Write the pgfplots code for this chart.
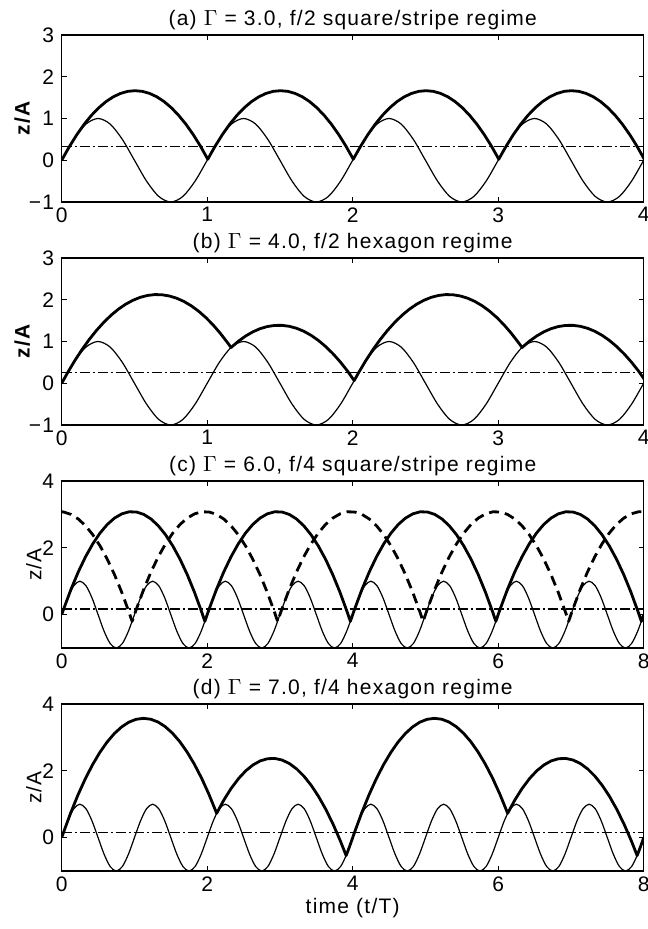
\documentclass[border=0pt,11pt]{standalone}
\usepackage{fontspec}
\setmainfont{Liberation Sans}[LetterSpace=6]
\usepackage{pgfplots}
\pgfplotsset{compat=1.18}
\usepackage{pgfplotstable}

% plate position z/A = sin(2 pi t)
\pgfplotstableread[row sep=\\]{
t z\\
0 0\\ 0.0833 0.5\\ 0.1667 0.866\\ 0.25 1\\ 0.3333 0.866\\ 0.4167 0.5\\ 0.5 0\\ 0.5833 -0.5\\ 0.6667 -0.866\\ 0.75 -1\\ 0.8333 -0.866\\ 0.9167 -0.5\\
1 0\\ 1.0833 0.5\\ 1.1667 0.866\\ 1.25 1\\ 1.3333 0.866\\ 1.4167 0.5\\ 1.5 0\\ 1.5833 -0.5\\ 1.6667 -0.866\\ 1.75 -1\\ 1.8333 -0.866\\ 1.9167 -0.5\\
2 0\\ 2.0833 0.5\\ 2.1667 0.866\\ 2.25 1\\ 2.3333 0.866\\ 2.4167 0.5\\ 2.5 0\\ 2.5833 -0.5\\ 2.6667 -0.866\\ 2.75 -1\\ 2.8333 -0.866\\ 2.9167 -0.5\\
3 0\\ 3.0833 0.5\\ 3.1667 0.866\\ 3.25 1\\ 3.3333 0.866\\ 3.4167 0.5\\ 3.5 0\\ 3.5833 -0.5\\ 3.6667 -0.866\\ 3.75 -1\\ 3.8333 -0.866\\ 3.9167 -0.5\\
4 0\\ 4.0833 0.5\\ 4.1667 0.866\\ 4.25 1\\ 4.3333 0.866\\ 4.4167 0.5\\ 4.5 0\\ 4.5833 -0.5\\ 4.6667 -0.866\\ 4.75 -1\\ 4.8333 -0.866\\ 4.9167 -0.5\\
5 0\\ 5.0833 0.5\\ 5.1667 0.866\\ 5.25 1\\ 5.3333 0.866\\ 5.4167 0.5\\ 5.5 0\\ 5.5833 -0.5\\ 5.6667 -0.866\\ 5.75 -1\\ 5.8333 -0.866\\ 5.9167 -0.5\\
6 0\\ 6.0833 0.5\\ 6.1667 0.866\\ 6.25 1\\ 6.3333 0.866\\ 6.4167 0.5\\ 6.5 0\\ 6.5833 -0.5\\ 6.6667 -0.866\\ 6.75 -1\\ 6.8333 -0.866\\ 6.9167 -0.5\\
7 0\\ 7.0833 0.5\\ 7.1667 0.866\\ 7.25 1\\ 7.3333 0.866\\ 7.4167 0.5\\ 7.5 0\\ 7.5833 -0.5\\ 7.6667 -0.866\\ 7.75 -1\\ 7.8333 -0.866\\ 7.9167 -0.5\\
8 0\\
}\sinetab

% (a) Gamma = 3
\pgfplotstableread[row sep=\\]{
t z\\
0 0\\ 0.028 0.175\\ 0.054 0.333\\ 0.104 0.613\\ 0.154 0.860\\ 0.204 1.074\\ 0.254 1.255\\ 0.304 1.403\\ 0.354 1.518\\ 0.404 1.600\\ 0.454 1.650\\ 0.504 1.666\\ 0.554 1.650\\ 0.604 1.601\\ 0.654 1.519\\ 0.704 1.404\\ 0.754 1.256\\ 0.804 1.075\\ 0.854 0.861\\ 0.904 0.614\\ 0.954 0.335\\ 1.004 0.024\\
1.028 0.175\\ 1.054 0.333\\ 1.104 0.613\\ 1.154 0.860\\ 1.204 1.074\\ 1.254 1.255\\ 1.304 1.403\\ 1.354 1.518\\ 1.404 1.600\\ 1.454 1.650\\ 1.504 1.666\\ 1.554 1.650\\ 1.604 1.601\\ 1.654 1.519\\ 1.704 1.404\\ 1.754 1.256\\ 1.804 1.075\\ 1.854 0.861\\ 1.904 0.614\\ 1.954 0.335\\ 2.004 0.024\\
2.028 0.175\\ 2.054 0.333\\ 2.104 0.613\\ 2.154 0.860\\ 2.204 1.074\\ 2.254 1.255\\ 2.304 1.403\\ 2.354 1.518\\ 2.404 1.600\\ 2.454 1.650\\ 2.504 1.666\\ 2.554 1.650\\ 2.604 1.601\\ 2.654 1.519\\ 2.704 1.404\\ 2.754 1.256\\ 2.804 1.075\\ 2.854 0.861\\ 2.904 0.614\\ 2.954 0.335\\ 3.004 0.024\\
3.028 0.175\\ 3.054 0.333\\ 3.104 0.613\\ 3.154 0.860\\ 3.204 1.074\\ 3.254 1.255\\ 3.304 1.403\\ 3.354 1.518\\ 3.404 1.600\\ 3.454 1.650\\ 3.504 1.666\\ 3.554 1.650\\ 3.604 1.601\\ 3.654 1.519\\ 3.704 1.404\\ 3.754 1.256\\ 3.804 1.075\\ 3.854 0.861\\ 3.904 0.614\\ 3.954 0.335\\ 4.004 0.024\\
}\balla

% (b) Gamma = 4
\pgfplotstableread[row sep=\\]{
t z\\
0 0\\ 0.020 0.125\\ 0.040 0.250\\ 0.090 0.542\\ 0.140 0.809\\ 0.190 1.052\\ 0.240 1.269\\ 0.290 1.462\\ 0.340 1.631\\ 0.390 1.775\\ 0.440 1.894\\ 0.490 1.988\\ 0.540 2.058\\ 0.590 2.103\\ 0.640 2.124\\ 0.690 2.119\\ 0.740 2.090\\ 0.790 2.037\\ 0.840 1.959\\ 0.890 1.856\\ 0.940 1.728\\ 0.990 1.576\\ 1.040 1.399\\ 1.090 1.197\\ 1.140 0.971\\ 1.164 0.856\\
1.214 1.006\\ 1.264 1.131\\ 1.314 1.232\\ 1.364 1.308\\ 1.414 1.359\\ 1.464 1.385\\ 1.514 1.387\\ 1.564 1.364\\ 1.614 1.317\\ 1.664 1.245\\ 1.714 1.148\\ 1.764 1.026\\ 1.814 0.880\\ 1.864 0.709\\ 1.914 0.514\\ 1.964 0.294\\ 2.010 0.065\\ 2.025 0.156\\
2.040 0.250\\ 2.090 0.542\\ 2.140 0.809\\ 2.190 1.052\\ 2.240 1.269\\ 2.290 1.462\\ 2.340 1.631\\ 2.390 1.775\\ 2.440 1.894\\ 2.490 1.988\\ 2.540 2.058\\ 2.590 2.103\\ 2.640 2.124\\ 2.690 2.119\\ 2.740 2.090\\ 2.790 2.037\\ 2.840 1.959\\ 2.890 1.856\\ 2.940 1.728\\ 2.990 1.576\\ 3.040 1.399\\ 3.090 1.197\\ 3.140 0.971\\ 3.164 0.856\\
3.214 1.006\\ 3.264 1.131\\ 3.314 1.232\\ 3.364 1.308\\ 3.414 1.359\\ 3.464 1.385\\ 3.514 1.387\\ 3.564 1.364\\ 3.614 1.317\\ 3.664 1.245\\ 3.714 1.148\\ 3.764 1.026\\ 3.814 0.880\\ 3.864 0.709\\ 3.914 0.514\\ 3.964 0.294\\ 4.010 0.065\\
}\ballb

% (c) Gamma = 6, solid
\pgfplotstableread[row sep=\\]{
t z\\
0 0\\ 0.027 0.167\\ 0.127 0.753\\ 0.227 1.274\\ 0.327 1.729\\ 0.427 2.118\\ 0.527 2.442\\ 0.627 2.700\\ 0.727 2.891\\ 0.827 3.017\\ 0.927 3.078\\ 1.027 3.072\\ 1.127 3.001\\ 1.227 2.864\\ 1.327 2.661\\ 1.427 2.392\\ 1.527 2.057\\ 1.627 1.657\\ 1.727 1.191\\ 1.827 0.659\\ 1.927 0.061\\ 1.968 -0.203\\ 2.000 0\\
2.027 0.167\\ 2.127 0.753\\ 2.227 1.274\\ 2.327 1.729\\ 2.427 2.118\\ 2.527 2.442\\ 2.627 2.700\\ 2.727 2.891\\ 2.827 3.017\\ 2.927 3.078\\ 3.027 3.072\\ 3.127 3.001\\ 3.227 2.864\\ 3.327 2.661\\ 3.427 2.392\\ 3.527 2.057\\ 3.627 1.657\\ 3.727 1.191\\ 3.827 0.659\\ 3.927 0.061\\ 3.968 -0.203\\ 4.000 0\\
4.027 0.167\\ 4.127 0.753\\ 4.227 1.274\\ 4.327 1.729\\ 4.427 2.118\\ 4.527 2.442\\ 4.627 2.700\\ 4.727 2.891\\ 4.827 3.017\\ 4.927 3.078\\ 5.027 3.072\\ 5.127 3.001\\ 5.227 2.864\\ 5.327 2.661\\ 5.427 2.392\\ 5.527 2.057\\ 5.627 1.657\\ 5.727 1.191\\ 5.827 0.659\\ 5.927 0.061\\ 5.968 -0.203\\ 6.000 0\\
6.027 0.167\\ 6.127 0.753\\ 6.227 1.274\\ 6.327 1.729\\ 6.427 2.118\\ 6.527 2.442\\ 6.627 2.700\\ 6.727 2.891\\ 6.827 3.017\\ 6.927 3.078\\ 7.027 3.072\\ 7.127 3.001\\ 7.227 2.864\\ 7.327 2.661\\ 7.427 2.392\\ 7.527 2.057\\ 7.627 1.657\\ 7.727 1.191\\ 7.827 0.659\\ 7.927 0.061\\ 7.968 -0.203\\ 8.000 0\\
}\ballc

% (c) Gamma = 6, dashed (other phase)
\pgfplotstableread[row sep=\\]{
t z\\
0 3.080\\ 0.027 3.072\\ 0.127 3.001\\ 0.227 2.864\\ 0.327 2.661\\ 0.427 2.392\\ 0.527 2.057\\ 0.627 1.657\\ 0.727 1.191\\ 0.827 0.659\\ 0.927 0.061\\ 0.968 -0.203\\ 1.000 0\\
1.027 0.167\\ 1.127 0.753\\ 1.227 1.274\\ 1.327 1.729\\ 1.427 2.118\\ 1.527 2.442\\ 1.627 2.700\\ 1.727 2.891\\ 1.827 3.017\\ 1.927 3.078\\ 2.027 3.072\\ 2.127 3.001\\ 2.227 2.864\\ 2.327 2.661\\ 2.427 2.392\\ 2.527 2.057\\ 2.627 1.657\\ 2.727 1.191\\ 2.827 0.659\\ 2.927 0.061\\ 2.968 -0.203\\ 3.000 0\\
3.027 0.167\\ 3.127 0.753\\ 3.227 1.274\\ 3.327 1.729\\ 3.427 2.118\\ 3.527 2.442\\ 3.627 2.700\\ 3.727 2.891\\ 3.827 3.017\\ 3.927 3.078\\ 4.027 3.072\\ 4.127 3.001\\ 4.227 2.864\\ 4.327 2.661\\ 4.427 2.392\\ 4.527 2.057\\ 4.627 1.657\\ 4.727 1.191\\ 4.827 0.659\\ 4.927 0.061\\ 4.968 -0.203\\ 5.000 0\\
5.027 0.167\\ 5.127 0.753\\ 5.227 1.274\\ 5.327 1.729\\ 5.427 2.118\\ 5.527 2.442\\ 5.627 2.700\\ 5.727 2.891\\ 5.827 3.017\\ 5.927 3.078\\ 6.027 3.072\\ 6.127 3.001\\ 6.227 2.864\\ 6.327 2.661\\ 6.427 2.392\\ 6.527 2.057\\ 6.627 1.657\\ 6.727 1.191\\ 6.827 0.659\\ 6.927 0.061\\ 6.968 -0.203\\ 7.000 0\\
7.027 0.167\\ 7.127 0.753\\ 7.227 1.274\\ 7.327 1.729\\ 7.427 2.118\\ 7.527 2.442\\ 7.627 2.700\\ 7.727 2.891\\ 7.827 3.017\\ 7.927 3.078\\ 8.000 3.080\\
}\ballcd

% (d) Gamma = 7
\pgfplotstableread[row sep=\\]{
t z\\
0 0\\ 0.023 0.143\\ 0.123 0.737\\ 0.223 1.274\\ 0.323 1.755\\ 0.423 2.179\\ 0.523 2.547\\ 0.623 2.859\\ 0.723 3.114\\ 0.823 3.313\\ 0.923 3.456\\ 1.023 3.542\\ 1.123 3.571\\ 1.223 3.545\\ 1.323 3.462\\ 1.423 3.322\\ 1.523 3.126\\ 1.623 2.874\\ 1.723 2.565\\ 1.823 2.200\\ 1.923 1.779\\ 2.023 1.301\\ 2.123 0.766\\ 2.130 0.727\\
2.230 1.130\\ 2.330 1.476\\ 2.430 1.766\\ 2.530 2.000\\ 2.630 2.177\\ 2.730 2.298\\ 2.830 2.362\\ 2.930 2.370\\ 3.030 2.322\\ 3.130 2.217\\ 3.230 2.056\\ 3.330 1.838\\ 3.430 1.564\\ 3.530 1.234\\ 3.630 0.847\\ 3.730 0.404\\ 3.830 -0.096\\ 3.910 -0.537\\ 3.950 -0.309\\ 3.980 -0.125\\ 4.000 0\\
4.023 0.143\\ 4.123 0.737\\ 4.223 1.274\\ 4.323 1.755\\ 4.423 2.179\\ 4.523 2.547\\ 4.623 2.859\\ 4.723 3.114\\ 4.823 3.313\\ 4.923 3.456\\ 5.023 3.542\\ 5.123 3.571\\ 5.223 3.545\\ 5.323 3.462\\ 5.423 3.322\\ 5.523 3.126\\ 5.623 2.874\\ 5.723 2.565\\ 5.823 2.200\\ 5.923 1.779\\ 6.023 1.301\\ 6.123 0.766\\ 6.130 0.727\\
6.230 1.130\\ 6.330 1.476\\ 6.430 1.766\\ 6.530 2.000\\ 6.630 2.177\\ 6.730 2.298\\ 6.830 2.362\\ 6.930 2.370\\ 7.030 2.322\\ 7.130 2.217\\ 7.230 2.056\\ 7.330 1.838\\ 7.430 1.564\\ 7.530 1.234\\ 7.630 0.847\\ 7.730 0.404\\ 7.830 -0.096\\ 7.910 -0.537\\ 7.950 -0.309\\ 7.980 -0.125\\ 8.000 0\\
}\balld

\pgfplotsset{
  panel/.style={
    width=291pt, height=83.5pt, scale only axis, anchor=north west,
    axis line style={line width=0.6pt},
    tick align=inside, major tick length=2.5pt,
    every tick/.style={black, line width=0.6pt},
    /pgf/number format/assume math mode=true,
    every axis title/.style={at={(0.5,1)}, anchor=south, inner sep=2.5pt, font=\fontsize{10.5}{12}\selectfont},
    tick label style={font=\fontsize{10.5}{12}\selectfont},
    xticklabel style={inner sep=2.5pt},
    label style={font=\fontsize{10.5}{12}\selectfont},
  },
  sine/.style={black, line width=0.6pt, smooth},
  thr/.style={black, line width=0.6pt, dash pattern=on 5pt off 1.5pt on 1pt off 1.5pt},
  ball/.style={black, line width=1.4pt, line join=round},
  balld/.style={black, line width=1.4pt, line join=round, dash pattern=on 5pt off 3pt},
}

\begin{document}
\begin{tikzpicture}
\begin{axis}[panel, name=a, at={(0,0)},
  xmin=0, xmax=4, ymin=-1, ymax=3,
  xtick={0,1,2,3,4}, ytick={-1,0,1,2,3}, yticklabels={−1,0,1,2,3},
  title={(a) $\Gamma$ = 3.0, f/2 square/stripe regime},
  ylabel={\bfseries z/A},
  ylabel style={at={(axis description cs:-0.068,0.5)}, anchor=center}]
\addplot[sine] table {\sinetab};
\addplot[thr] coordinates {(0,0.3333) (4,0.3333)};
\addplot[ball] table {\balla};
\end{axis}

\begin{axis}[panel, name=b, at={(0,-111.5pt)},
  xmin=0, xmax=4, ymin=-1, ymax=3,
  xtick={0,1,2,3,4}, ytick={-1,0,1,2,3}, yticklabels={−1,0,1,2,3},
  title={(b) $\Gamma$ = 4.0, f/2 hexagon regime},
  ylabel={\bfseries z/A},
  ylabel style={at={(axis description cs:-0.068,0.5)}, anchor=center}]
\addplot[sine] table {\sinetab};
\addplot[thr] coordinates {(0,0.25) (4,0.25)};
\addplot[ball] table {\ballb};
\end{axis}

\begin{axis}[panel, name=c, at={(0,-223pt)},
  xmin=0, xmax=8, ymin=-1, ymax=4,
  xtick={0,2,4,6,8}, ytick={0,2,4},
  title={(c) $\Gamma$ = 6.0, f/4 square/stripe regime},
  ylabel={z/A},
  ylabel style={at={(axis description cs:-0.048,0.5)}, anchor=center}]
\addplot[sine] table {\sinetab};
\addplot[thr] coordinates {(0,0.1667) (8,0.1667)};
\addplot[balld] table {\ballcd};
\addplot[ball] table {\ballc};
\end{axis}

\begin{axis}[panel, name=d, at={(0,-334.5pt)},
  xmin=0, xmax=8, ymin=-1, ymax=4,
  xtick={0,2,4,6,8}, ytick={0,2,4},
  title={(d) $\Gamma$ = 7.0, f/4 hexagon regime},
  ylabel={z/A},
  ylabel style={at={(axis description cs:-0.048,0.5)}, anchor=center},
  xlabel={time (t/T)}, xlabel style={inner sep=1pt}]
\addplot[sine] table {\sinetab};
\addplot[thr] coordinates {(0,0.1429) (8,0.1429)};
\addplot[ball] table {\balld};
\end{axis}

\pgfresetboundingbox
\path[use as bounding box] (a.north west) ++(-30.85pt,17.5pt) rectangle ++(323.5pt,-464.5pt);
\end{tikzpicture}
\end{document}
